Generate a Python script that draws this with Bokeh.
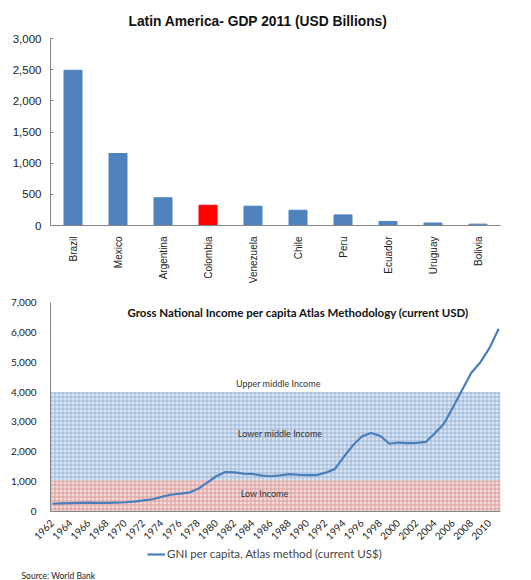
from bokeh.plotting import figure
from bokeh.layouts import column
from bokeh.models import (ColumnDataSource, NumeralTickFormatter, Label, Legend, LegendItem,
                          FixedTicker, Range1d, BoxAnnotation)
from bokeh.embed import file_html
from bokeh.resources import INLINE
import math

# ---------------- data ----------------
countries = ["Brazil", "Mexico", "Argentina", "Colombia", "Venezuela", "Chile", "Peru",
             "Ecuador", "Uruguay", "Bolivia"]
gdp_2011 = [2490, 1155, 445, 325, 310, 245, 170, 65, 40, 22]
highlight = "Colombia"

years = list(range(1962, 2012))
gni_pc = [260, 270, 280, 290, 300, 290, 290, 300, 310, 330,
          370, 410, 490, 560, 600, 630, 760, 970, 1180, 1320,
          1310, 1270, 1260, 1200, 1180, 1210, 1250, 1230, 1220, 1220,
          1300, 1420, 1830, 2220, 2520, 2630, 2530, 2270, 2310, 2290,
          2300, 2330, 2620, 2950, 3500, 4080, 4650, 5000, 5480, 6120]
low_income_max = 1050
lower_middle_max = 4000
band_labels = ["Low Income", "Lower middle Income", "Upper middle Income"]
gni_ticks = [0, 1000, 2000, 3000, 4000, 5000, 6000, 7000]
gdp_ticks = [0, 500, 1000, 1500, 2000, 2500, 3000]

ARIAL = "Liberation Sans"
CAL = "Lato"
LINE_COLOR = "#4a7ebb"
LEFT = 50

# ---------------- top chart ----------------
colors = ["#ff0000" if c == highlight else "#4f81bd" for c in countries]
src = ColumnDataSource(dict(x=countries, y=gdp_2011, color=colors))

p1 = figure(x_range=countries, y_range=Range1d(0, 3000), width=531, height=286,
            output_backend="svg", toolbar_location=None,
            min_border_left=LEFT, min_border_right=31, min_border_top=38, min_border_bottom=55,
            title="Latin America- GDP 2011 (USD Billions)")
p1.vbar(x="x", top="y", width=0.4, color="color", source=src)
p1.title.align = "left"
p1.title.offset = 78
p1.title.text_font = ARIAL
p1.title.text_font_size = "13.8px"
p1.title.text_font_style = "bold"
p1.title.text_color = "#111111"
p1.title.standoff = 20
p1.xgrid.grid_line_color = None
p1.ygrid.grid_line_color = None
p1.outline_line_color = None
p1.yaxis.ticker = FixedTicker(ticks=gdp_ticks)
p1.yaxis.formatter = NumeralTickFormatter(format="0,0")
for ax in (p1.xaxis[0], p1.yaxis[0]):
    ax.axis_line_color = "#868686"
    ax.major_tick_line_color = "#868686"
    ax.minor_tick_line_color = None
    ax.major_label_text_font = ARIAL
    ax.major_label_text_font_size = "11.5px"
    ax.major_label_text_color = "#222222"
p1.yaxis.major_tick_in = 3
p1.yaxis.major_tick_out = 0
p1.yaxis.major_label_standoff = 9
p1.xaxis.major_tick_line_color = None
p1.xaxis.major_label_orientation = math.pi / 2
p1.xaxis.major_label_text_font_size = "10px"
p1.xaxis.major_label_standoff = 5

# ---------------- bottom chart ----------------
p2 = figure(x_range=Range1d(1961.8, 2011.2), y_range=Range1d(0, 7000), width=531, height=259,
            output_backend="svg", toolbar_location=None,
            min_border_left=LEFT, min_border_right=8, min_border_top=16, min_border_bottom=31)
p2.add_layout(BoxAnnotation(bottom=0, top=low_income_max, fill_color="#f2dcdb", fill_alpha=1,
                            hatch_pattern="+", hatch_color="#d99694", hatch_scale=4,
                            hatch_alpha=0.9, line_color=None, level="underlay"))
p2.add_layout(BoxAnnotation(bottom=low_income_max, top=lower_middle_max, fill_color="#dbe5f1",
                            fill_alpha=1, hatch_pattern="+", hatch_color="#95b3d7", hatch_scale=4,
                            hatch_alpha=0.9, line_color=None, level="underlay"))
p2.line(years, gni_pc, line_color=LINE_COLOR, line_width=2.2)

p2.xgrid.grid_line_color = None
p2.ygrid.grid_line_color = None
p2.outline_line_color = None
p2.yaxis.ticker = FixedTicker(ticks=gni_ticks)
p2.yaxis.formatter = NumeralTickFormatter(format="0,0")
p2.xaxis.ticker = FixedTicker(ticks=list(range(1962, 2011, 2)))
p2.xaxis.formatter = NumeralTickFormatter(format="0")
for ax in (p2.xaxis[0], p2.yaxis[0]):
    ax.axis_line_color = "#868686"
    ax.major_tick_line_color = None
    ax.minor_tick_line_color = None
    ax.major_label_text_font = CAL
    ax.major_label_text_font_size = "10px"
    ax.major_label_text_color = "#222222"
p2.xaxis.major_label_orientation = math.pi / 4
p2.xaxis.major_label_standoff = 4
p2.yaxis.major_label_standoff = 8

p2.add_layout(Label(x=1989, y=6650, text="Gross National Income per capita Atlas Methodology (current USD)",
                    text_font=CAL, text_font_size="11.5px", text_font_style="bold",
                    text_align="center", text_baseline="middle", text_color="#111111"))
p2.add_layout(Label(x=1986.8, y=4280, text=band_labels[2], text_font=CAL, text_font_size="9px",
                    text_align="center", text_baseline="middle", text_color="#333333"))
p2.add_layout(Label(x=1987.0, y=2620, text=band_labels[1], text_font=CAL, text_font_size="9px",
                    text_align="center", text_baseline="middle", text_color="#333333"))
p2.add_layout(Label(x=1985.3, y=600, text=band_labels[0], text_font=CAL, text_font_size="9px",
                    text_align="center", text_baseline="middle", text_color="#333333"))

# ---------------- legend + source strip ----------------
p3 = figure(x_range=Range1d(0, 1), y_range=Range1d(0, 1), width=531, height=35,
            output_backend="svg", toolbar_location=None,
            x_axis_location=None, y_axis_location=None,
            title="Source: World Bank", title_location="below",
            min_border_left=LEFT, min_border_right=0, min_border_top=0, min_border_bottom=0)
p3.title.align = "left"
p3.title.offset = 21 - LEFT
p3.title.standoff = 0
p3.title.text_font = CAL
p3.title.text_font_size = "8.5px"
p3.title.text_font_style = "normal"
p3.title.text_color = "#222222"
p3.xgrid.grid_line_color = None
p3.ygrid.grid_line_color = None
p3.outline_line_color = None
legend_line = p3.line(x=[float("nan")], y=[float("nan")], line_color=LINE_COLOR, line_width=2.2)
legend = Legend(items=[LegendItem(label="GNI per capita, Atlas method (current US$)",
                                  renderers=[legend_line])],
                location=(147 - LEFT, 8), background_fill_alpha=0, border_line_color=None,
                label_text_font=CAL, label_text_font_size="11.5px", glyph_width=18,
                glyph_height=12, label_height=12, label_standoff=2, padding=0, margin=0)
p3.add_layout(legend, "center")

layout = column(p1, p2, p3, spacing=0)
open("out.html", "w").write(file_html(layout, INLINE))
